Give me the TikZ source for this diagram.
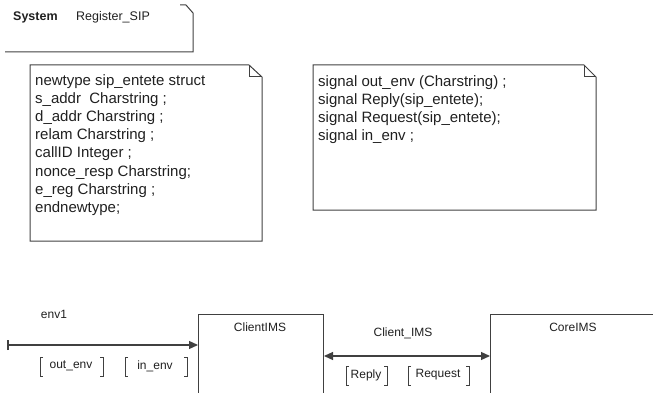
\documentclass[tikz,border=0pt]{standalone}
\usepackage{fontspec}
\setmainfont{Liberation Sans}
\usetikzlibrary{arrows.meta}
\definecolor{ink}{HTML}{404040}
\definecolor{txt}{HTML}{202020}
\tikzset{
  outline/.style={draw=ink, line width=1pt},
  notetext/.style={anchor=north west, inner sep=0pt, align=left, text=txt,
    font=\fontsize{15}{18.1}\selectfont},
  lbl/.style={inner sep=0pt, text=txt, font=\fontsize{12}{14}\selectfont},
  blockbox/.style={outline, fill=white, rectangle, anchor=north west, inner sep=0pt},
  chan/.style={draw=ink, line width=1.2pt},
  sigbracket/.style={draw=ink, line width=0.9pt},
}
\begin{document}
\begin{tikzpicture}[x=1pt, y=-1pt]
\useasboundingbox (0,0) rectangle (653,393);
\clip (0,0) rectangle (653,393);

% system frame (lower right corner with its folded top)
\draw[outline] (5,52) -- (193,52) -- (193,13) -- (186,5) -- (180,5);
\node[lbl, anchor=base west, font=\fontsize{12.5}{14}\selectfont\bfseries] (sysword) at (13,21) {System};
\node[lbl, anchor=base west, font=\fontsize{12.5}{14}\selectfont] (sysname) at (76,21) {Register\_SIP};

% text symbol: type declaration
\draw[outline] (30,65) -- (249,65) -- (262,77) -- (262,241) -- (30,241) -- cycle;
\draw[outline] (249,65) -- (249,77) -- (262,77);
\node[notetext] (types) at (35,74.5) {newtype sip\_entete struct\\
s\_addr~~Charstring ;\\
d\_addr Charstring ;\\
relam Charstring ;\\
callID Integer ;\\
nonce\_resp Charstring;\\
e\_reg Charstring ;\\
endnewtype;};

% text symbol: signal declarations
\draw[outline] (313,65) -- (584,65) -- (596,77) -- (596,210) -- (313,210) -- cycle;
\draw[outline] (584,65) -- (584,77) -- (596,77);
\node[notetext] (signals) at (318,75.5) {signal out\_env (Charstring) ;\\
signal Reply(sip\_entete);\\
signal Request(sip\_entete);\\
signal in\_env ;};

% blocks
\node[blockbox, minimum width=125pt, minimum height=100pt] (client) at (198,314) {};
\node[lbl] (clientname) at (260,327) {ClientIMS};
\node[blockbox, minimum width=200pt, minimum height=100pt] (core) at (490,314) {};
\node[lbl] (corename) at (573,327) {CoreIMS};

% channel from the environment
\coordinate (envend) at (7,345);
\draw[chan, {Bar[width=10pt, line width=1.5pt]}-{Triangle[length=9pt, width=8pt]}] (envend) -- (client.west |- envend);
\node[lbl] (env1) at (54,314) {env1};

% signal lists of env1
\node[lbl] (outenv) at (71,366) {out\_env};
\node[lbl] (inenv) at (155,366) {in\_env};
\draw[sigbracket] (43,357) -- (40,357) -- (40,376) -- (43,376);
\draw[sigbracket] (100,357) -- (103,357) -- (103,376) -- (100,376);
\draw[sigbracket] (128,357) -- (125,357) -- (125,376) -- (128,376);
\draw[sigbracket] (184,357) -- (187,357) -- (187,376) -- (184,376);

% channel between the blocks
\coordinate (chy) at (0,356);
\draw[chan, {Triangle[length=9pt, width=8pt]}-{Triangle[length=9pt, width=8pt]}] (client.east |- chy) -- (core.west |- chy);
\node[lbl] (chname) at (403,333) {Client\_IMS};

% signal lists of Client_IMS
\node[lbl] (reply) at (366,375) {Reply};
\node[lbl] (request) at (438,375) {Request};
\draw[sigbracket] (349,366) -- (346,366) -- (346,385) -- (349,385);
\draw[sigbracket] (384,366) -- (387,366) -- (387,385) -- (384,385);
\draw[sigbracket] (411,366) -- (408,366) -- (408,385) -- (411,385);
\draw[sigbracket] (466,366) -- (469,366) -- (469,385) -- (466,385);
\end{tikzpicture}
\end{document}
